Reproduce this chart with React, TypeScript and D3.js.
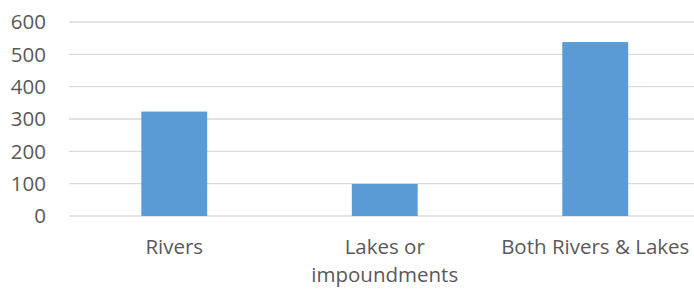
import React, { useEffect, useRef } from 'react';
import * as d3 from 'd3';

const categories = ['Rivers', 'Lakes or impoundments', 'Both Rivers & Lakes'];
const categoryLines = [['Rivers'], ['Lakes or', 'impoundments'], ['Both Rivers & Lakes']];
const values = [323, 99, 538];
const yTicks = [0, 100, 200, 300, 400, 500, 600];

const App = () => {
  const svgRef = useRef<SVGSVGElement>(null);

  useEffect(() => {
    const svg = d3.select(svgRef.current);
    const width = 694;
    const plot = { left: 69, right: 700.5, top: 22, bottom: 216 };
    const font = '"Open Sans", sans-serif';
    const textColor = '#595959';
    const fontSize = 20.5;

    svg.selectAll('*').remove();

    const x = d3
      .scaleBand<string>()
      .domain(categories)
      .range([plot.left, plot.right])
      .paddingInner(0.687)
      .paddingOuter(0.3435);

    const y = d3.scaleLinear().domain([0, 600]).range([plot.bottom, plot.top]);

    // gridlines
    svg
      .append('g')
      .selectAll('line')
      .data(yTicks)
      .join('line')
      .attr('x1', plot.left)
      .attr('x2', width)
      .attr('y1', (d) => y(d))
      .attr('y2', (d) => y(d))
      .attr('stroke', '#d9d9d9')
      .attr('stroke-width', 1.3);

    // y labels
    svg
      .append('g')
      .selectAll('text')
      .data(yTicks)
      .join('text')
      .attr('x', 46)
      .attr('y', (d) => y(d))
      .attr('dy', '0.36em')
      .attr('text-anchor', 'end')
      .attr('font-family', font)
      .attr('font-size', fontSize)
      .attr('fill', textColor)
      .text((d) => d);

    // bars
    svg
      .append('g')
      .selectAll('rect')
      .data(values)
      .join('rect')
      .attr('x', (d, i) => x(categories[i])!)
      .attr('width', x.bandwidth())
      .attr('y', (d) => y(d))
      .attr('height', (d) => y(0) - y(d))
      .attr('fill', '#5b9bd5');

    // category labels, one text per line
    categoryLines.forEach((lines, i) => {
      const cx = x(categories[i])! + x.bandwidth() / 2;
      svg
        .append('g')
        .selectAll('text')
        .data(lines)
        .join('text')
        .attr('x', cx)
        .attr('y', (d, j) => 254 + j * 27.5)
        .attr('text-anchor', 'middle')
        .attr('font-family', font)
        .attr('font-size', fontSize)
        .attr('fill', textColor)
        .text((d) => d);
    });
  }, []);

  return (
    <svg
      ref={svgRef}
      width={694}
      height={289}
      style={{ position: 'absolute', left: 0, top: 0, background: '#fff' }}
    ></svg>
  );
};

export default App;
